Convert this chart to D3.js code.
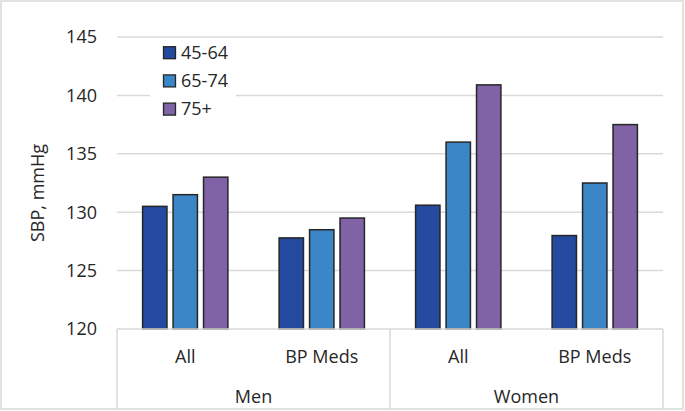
<!DOCTYPE html>
<html>
<head>
<meta charset="utf-8">
<script src="https://cdn.jsdelivr.net/npm/d3@7"></script>
<style>
    body { margin: 0; background: #fff; }
    svg text { font-family: "Open Sans", sans-serif; fill: #262626; }
</style>
</head>
<body>
<svg id="chart" width="685" height="411"></svg>
<script>
// chart values
const groups = ["Men", "Women"];
const subgroups = ["All", "BP Meds"];
const series = ["45-64", "65-74", "75+"];
const colors = ["#234a9f", "#3b86c6", "#8062a7"];
const yTicks = [120, 125, 130, 135, 140, 145];
// one row per group/subgroup, one value per age series
const menValues = [[130.5, 131.5, 133.0], [127.8, 128.5, 129.5]];
const womenValues = [[130.6, 136.0, 140.9], [128.0, 132.5, 137.5]];

const ctx = {
    W: 685,
    H: 411,
    LEFT: 117,
    RIGHT: 663,
    TOP: 37,
    BOTTOM: 329,
    FONT_SIZE: "18px",
};

const svg = d3.select("#chart");

const rows = [];
groups.forEach((g, gi) => {
    const vals = gi === 0 ? menValues : womenValues;
    subgroups.forEach((s, si) => {
        rows.push({ key: g + "|" + s, group: g, sub: s, values: vals[si] });
    });
});

const x0 = d3.scaleBand()
    .domain(rows.map(d => d.key))
    .range([ctx.LEFT, ctx.RIGHT]);

const x1 = d3.scaleBand()
    .domain(series)
    .range([0, x0.bandwidth()])
    .paddingInner(0.2)
    .paddingOuter(0.84);

const y = d3.scaleLinear()
    .domain([120, 145])
    .range([ctx.BOTTOM, ctx.TOP]);

// outer frame
svg.append("rect")
    .attr("x", 1).attr("y", 1)
    .attr("width", ctx.W - 3).attr("height", ctx.H - 3)
    .attr("fill", "#fff")
    .attr("stroke", "#d9d9d9")
    .attr("stroke-width", 1.5);

// gridlines
svg.append("g")
    .selectAll("line")
    .data(yTicks.filter(t => t > 120))
    .enter()
    .append("line")
    .attr("x1", ctx.LEFT).attr("x2", ctx.RIGHT)
    .attr("y1", d => y(d)).attr("y2", d => y(d))
    .attr("stroke", "#d9d9d9")
    .attr("stroke-width", 1.5);

// y tick labels
svg.append("g")
    .selectAll("text")
    .data(yTicks)
    .enter()
    .append("text")
    .attr("x", 97)
    .attr("y", d => y(d))
    .attr("dy", "0.35em")
    .attr("text-anchor", "end")
    .style("font-size", ctx.FONT_SIZE)
    .text(d => d);

// y title
svg.append("text")
    .attr("transform", "translate(44,193) rotate(-90)")
    .attr("text-anchor", "middle")
    .style("font-size", "18px")
    .text("SBP, mmHg");

// bars
const barGroups = svg.append("g")
    .selectAll("g")
    .data(rows)
    .enter()
    .append("g")
    .attr("transform", d => `translate(${x0(d.key)},0)`);

barGroups.selectAll("rect")
    .data(d => d.values.map((v, i) => ({ s: series[i], v: v, c: colors[i] })))
    .enter()
    .append("rect")
    .attr("x", d => x1(d.s))
    .attr("y", d => y(d.v))
    .attr("width", x1.bandwidth())
    .attr("height", d => y(120) - y(d.v))
    .attr("fill", d => d.c)
    .attr("stroke", "#262626")
    .attr("stroke-width", 1.5);

// category axis box
const axisG = svg.append("g")
    .attr("stroke", "#d9d9d9")
    .attr("stroke-width", 1.5);
axisG.append("line")
    .attr("x1", ctx.LEFT).attr("x2", ctx.RIGHT)
    .attr("y1", ctx.BOTTOM).attr("y2", ctx.BOTTOM);
const dividers = [ctx.LEFT, x0(groups[1] + "|" + subgroups[0]), ctx.RIGHT];
axisG.selectAll(".div")
    .data(dividers)
    .enter()
    .append("line")
    .attr("x1", d => d).attr("x2", d => d)
    .attr("y1", ctx.BOTTOM).attr("y2", ctx.H - 2);

svg.append("g")
    .selectAll("text")
    .data(rows)
    .enter()
    .append("text")
    .attr("x", d => x0(d.key) + x0.bandwidth() / 2)
    .attr("y", 357)
    .attr("dy", "0.35em")
    .attr("text-anchor", "middle")
    .style("font-size", ctx.FONT_SIZE)
    .text(d => d.sub);

svg.append("g")
    .selectAll("text")
    .data(groups)
    .enter()
    .append("text")
    .attr("x", g => (x0(g + "|" + subgroups[0]) + x0(g + "|" + subgroups[1]) + x0.bandwidth()) / 2)
    .attr("y", 397)
    .attr("dy", "0.35em")
    .attr("text-anchor", "middle")
    .style("font-size", ctx.FONT_SIZE)
    .text(g => g);

// legend
const legend = svg.append("g");
legend.append("rect")
    .attr("x", 150).attr("y", 40)
    .attr("width", 86).attr("height", 82)
    .attr("fill", "#fff");
const items = legend.selectAll(".item")
    .data(series)
    .enter()
    .append("g")
    .attr("transform", (d, i) => `translate(0,${52.7 + i * 28.2})`);
items.append("rect")
    .attr("x", 163.5).attr("y", -6)
    .attr("width", 12).attr("height", 12)
    .attr("fill", (d, i) => colors[i])
    .attr("stroke", "#262626")
    .attr("stroke-width", 1.3);
items.append("text")
    .attr("x", 181)
    .attr("dy", "0.35em")
    .style("font-size", ctx.FONT_SIZE)
    .text(d => d);
</script>
</body>
</html>
